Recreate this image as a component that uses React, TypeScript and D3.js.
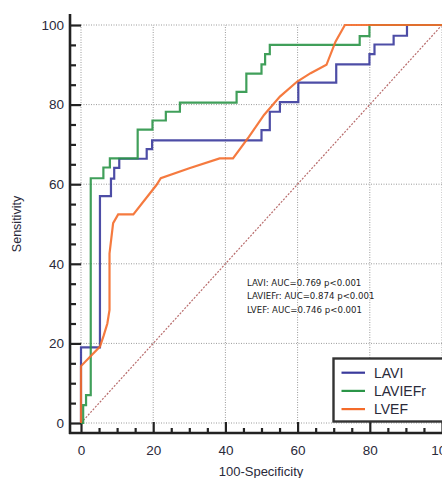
import React, { useRef, useEffect } from 'react';
import * as d3 from 'd3';

// ROC points (100-specificity, sensitivity), step curves drawn with stepAfter
const laviX = [0, 0, 5.25, 8.3, 9.2, 10.6, 18.2, 19.7, 50, 52.3, 55.1, 60.2, 70.7, 79.9, 81.3, 86.6, 90.3, 100];
const laviY = [0, 19, 57, 61.4, 64.1, 66.4, 68.8, 71, 73.6, 78.2, 80.6, 85.5, 90.1, 92.7, 95.1, 97.3, 100, 100];

const laviefrX = [0, 0.6, 1.4, 2.7, 6.2, 8.0, 15.7, 19.8, 23.5, 27.4, 43.1, 45.8, 50.0, 51.0, 52.3, 77.2, 79.9, 100];
const laviefrY = [0, 4.5, 7.0, 61.5, 64.2, 66.5, 73.7, 76.0, 78.2, 80.5, 83.2, 87.8, 90.1, 92.7, 95.0, 97.2, 100, 100];

// LVEF is drawn as straight segments
const lvefX = [0, 0, 5.25, 6.3, 7.3, 7.9, 7.9, 8.9, 10.3, 14.5, 20.9, 22.1, 30, 38.4, 42.1, 46.5, 50.7, 55.1, 59.9, 63.6, 68.0, 70.5, 73.1, 100];
const lvefY = [0, 14.3, 19.2, 22, 25, 28.4, 42.6, 50.2, 52.4, 52.4, 59.8, 61.5, 64, 66.5, 66.5, 71.9, 77.4, 82.0, 85.8, 87.9, 90.0, 95.8, 100, 100];

const seriesNames = ['LAVI', 'LAVIEFr', 'LVEF'];
const seriesColors = ['#3a3a9c', '#2b9548', '#f46b2a'];
const annotations = [
  'LAVI: AUC=0.769 p<0.001',
  'LAVIEFr: AUC=0.874  p<0.001',
  'LVEF: AUC=0.746 p<0.001',
];
const majorTicks = [0, 20, 40, 60, 80, 100];

export default function App() {
  const svgRef = useRef<SVGSVGElement>(null);

  useEffect(() => {
    const width = 442, height = 478;
    const svg = d3.select(svgRef.current);
    svg.selectAll('*').remove();

    const x = d3.scaleLinear().domain([0, 100]).range([81, 442]);
    const y = d3.scaleLinear().domain([0, 100]).range([423, 25]);
    const minor = d3.range(0, 101, 5).filter(v => v % 20 !== 0);

    // grid
    const grid = svg.append('g')
      .attr('stroke', '#9a9a9a')
      .attr('stroke-width', 1)
      .attr('stroke-dasharray', '1,1.5');
    majorTicks.forEach(v => {
      grid.append('line').attr('x1', x(v)).attr('x2', x(v)).attr('y1', y(0)).attr('y2', y(100));
      grid.append('line').attr('x1', x(0)).attr('x2', x(100)).attr('y1', y(v)).attr('y2', y(v));
    });

    // diagonal reference
    svg.append('line')
      .attr('x1', x(0)).attr('y1', y(0)).attr('x2', x(100)).attr('y2', y(100))
      .attr('stroke', '#b86c6c').attr('stroke-width', 1.2)
      .attr('stroke-dasharray', '2,1.5');

    // axes
    const font = 'Liberation Sans, Arial, sans-serif';
    const yAxis = svg.append('g').attr('transform', 'translate(70,0)')
      .call(d3.axisLeft(y).tickValues(majorTicks).tickSize(-11).tickPadding(6));
    const yMinor = svg.append('g').attr('transform', 'translate(70,0)')
      .call(d3.axisLeft(y).tickValues(minor).tickSize(-6).tickFormat(() => ''));
    const xAxis = svg.append('g').attr('transform', 'translate(0,433)')
      .call(d3.axisBottom(x).tickValues(majorTicks).tickSize(-11).tickPadding(12));
    const xMinor = svg.append('g').attr('transform', 'translate(0,433)')
      .call(d3.axisBottom(x).tickValues(minor).tickSize(-5).tickFormat(() => ''));
    [yAxis, yMinor, xAxis, xMinor].forEach(g => {
      g.select('.domain').remove();
      g.selectAll('line').attr('stroke', '#222').attr('stroke-width', 2.2);
      g.selectAll('text').attr('font-family', font).attr('font-size', 13.5).attr('fill', '#2a2a3a');
    });
    svg.append('line').attr('x1', 70).attr('x2', 70).attr('y1', 14).attr('y2', 434)
      .attr('stroke', '#222').attr('stroke-width', 2.6);
    svg.append('line').attr('x1', 69).attr('x2', 442).attr('y1', 433).attr('y2', 433)
      .attr('stroke', '#222').attr('stroke-width', 2.6);

    svg.append('text').attr('transform', 'translate(21,224) rotate(-90)')
      .attr('text-anchor', 'middle').attr('font-family', font).attr('font-size', 12.5)
      .attr('fill', '#2a2a3a').text('Sensitivity');
    svg.append('text').attr('x', 261).attr('y', 476)
      .attr('text-anchor', 'middle').attr('font-family', font).attr('font-size', 13)
      .attr('fill', '#2a2a3a').text('100-Specificity');

    // curves
    const toPts = (xs: number[], ys: number[]) => xs.map((v, i) => [v, ys[i]] as [number, number]);
    const stepLine = d3.line<[number, number]>().x(d => x(d[0])).y(d => y(d[1])).curve(d3.curveStepAfter);
    const straight = d3.line<[number, number]>().x(d => x(d[0])).y(d => y(d[1]));
    const curves = [
      stepLine(toPts(laviX, laviY)),
      stepLine(toPts(laviefrX, laviefrY)),
      straight(toPts(lvefX, lvefY)),
    ];
    curves.forEach((d, i) => {
      svg.append('path').attr('d', d).attr('fill', 'none')
        .attr('stroke', seriesColors[i]).attr('stroke-width', 2.2)
        .attr('stroke-opacity', 0.9);
    });

    // annotation
    svg.append('g').selectAll('text').data(annotations).join('text')
      .attr('x', 247).attr('y', (_, i) => 285.5 + i * 13.5)
      .attr('font-family', 'DejaVu Sans, sans-serif').attr('font-size', 8.6)
      .attr('fill', '#222').text(d => d);

    // legend
    const lg = svg.append('g');
    lg.append('rect').attr('x', 333.5).attr('y', 358.5).attr('width', 120).attr('height', 63)
      .attr('fill', 'white').attr('stroke', '#333').attr('stroke-width', 2.4);
    seriesNames.forEach((name, i) => {
      const ly = 372.7 + i * 18.2;
      lg.append('line').attr('x1', 341.5).attr('x2', 365).attr('y1', ly).attr('y2', ly)
        .attr('stroke', seriesColors[i]).attr('stroke-width', 2.2);
      lg.append('text').attr('x', 374).attr('y', ly + 5).attr('font-family', font)
        .attr('font-size', 14).attr('fill', '#2a2a3a').text(name);
    });
  }, []);

  return (
    <svg ref={svgRef} width={442} height={478}
      style={{ position: 'absolute', left: 0, top: 0, background: 'white' }} />
  );
}
